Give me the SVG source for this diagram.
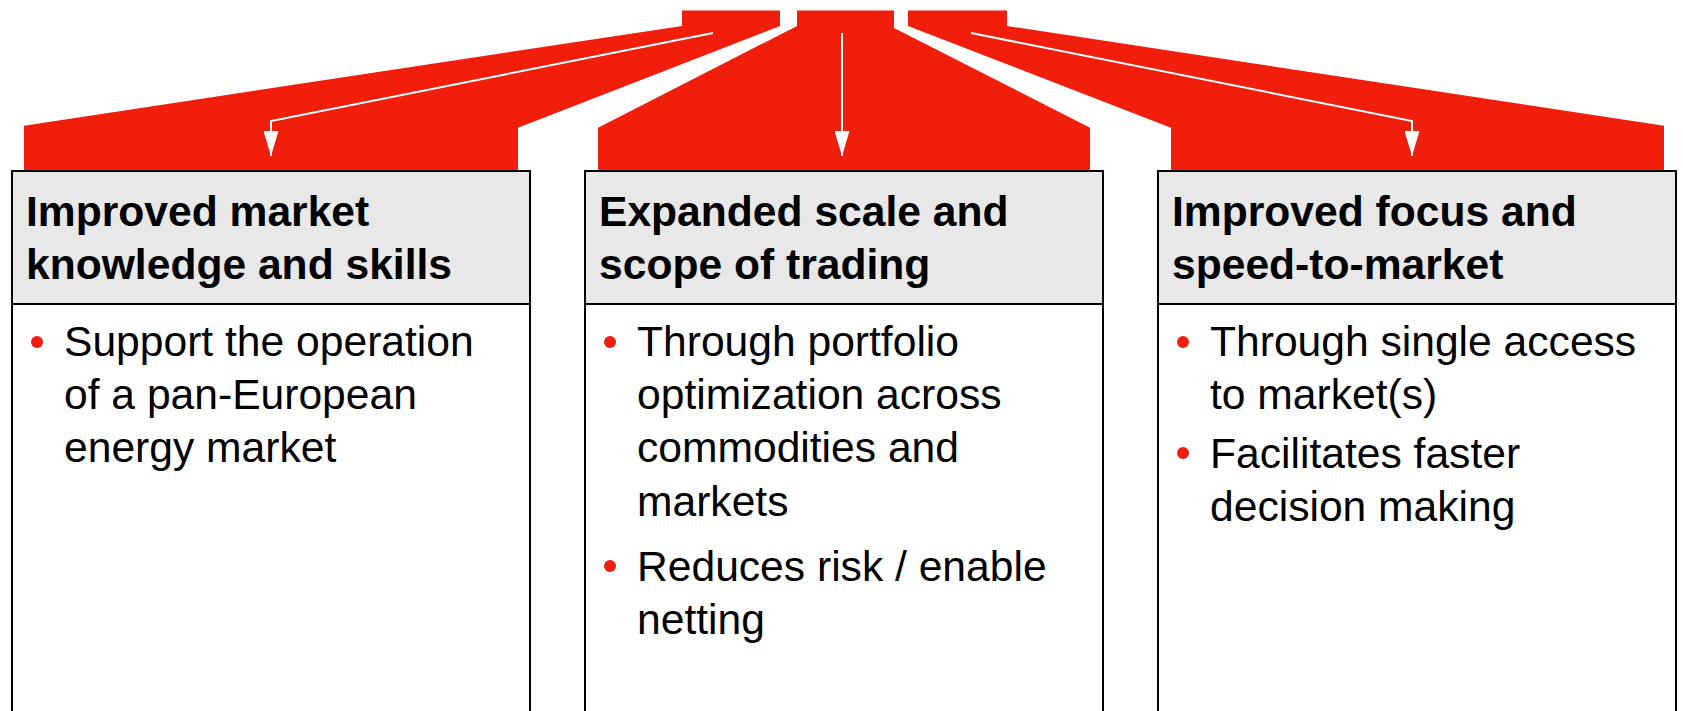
<svg xmlns="http://www.w3.org/2000/svg" width="1683" height="711" viewBox="0 0 1683 711">
  <style>
    .funnel { fill: #f01e0b; stroke: none; }
    .box { fill: #ffffff; stroke: #000000; stroke-width: 2; }
    .head { fill: #e8e8e8; stroke: #000000; stroke-width: 2; }
    .ht { font-family: "Liberation Sans", Arial, sans-serif; font-weight: bold; font-size: 42.6px; fill: #000000; }
    .bt { font-family: "Liberation Sans", Arial, sans-serif; font-size: 42.6px; fill: #000000; }
    .bullet { fill: #f01e0b; }
    .conn { fill: none; stroke: #ffffff; stroke-width: 2; }
  </style>
  <defs>
    <marker id="arrow" viewBox="0 0 25 15" refX="25" refY="7.5" markerWidth="25" markerHeight="15" markerUnits="userSpaceOnUse" orient="auto">
      <path d="M0,0 L25,7.5 L0,15 z" fill="#ffffff"/>
    </marker>
  </defs>
  <rect x="0" y="0" width="1683" height="711" fill="#ffffff"/>

  <g id="funnels">
    <polygon class="funnel" points="682,10.5 780,10.5 780,26 518,127.7 518,171 24,171 24,125.7 682,26"/>
    <polygon class="funnel" points="797,10.5 894,10.5 894,28 1090,127.7 1090,171 598,171 598,127.7 797,26"/>
    <polygon class="funnel" points="908,10.5 1007,10.5 1007,26 1664,125.7 1664,171 1171,171 1171,127.7 908,26"/>
  </g>

  <g id="connectors">
    <path class="conn" d="M713,33 L271,121 L271,156" marker-end="url(#arrow)"/>
    <path class="conn" d="M842,33 L842,156" marker-end="url(#arrow)"/>
    <path class="conn" d="M971,33 L1412,121 L1412,156" marker-end="url(#arrow)"/>
  </g>

  <g id="node-knowledge">
    <rect class="box" x="12" y="171" width="518" height="560"/>
    <rect class="head" x="12" y="171" width="518" height="133"/>
    <text class="ht" x="26" y="226">Improved market</text>
    <text class="ht" x="26" y="279">knowledge and skills</text>
    <circle class="bullet" cx="37" cy="342" r="6"/>
    <text class="bt" x="64" y="356">Support the operation</text>
    <text class="bt" x="64" y="409">of a pan-European</text>
    <text class="bt" x="64" y="462">energy market</text>
  </g>

  <g id="node-scale">
    <rect class="box" x="585" y="171" width="518" height="560"/>
    <rect class="head" x="585" y="171" width="518" height="133"/>
    <text class="ht" x="599" y="226">Expanded scale and</text>
    <text class="ht" x="599" y="279">scope of trading</text>
    <circle class="bullet" cx="610" cy="342" r="6"/>
    <text class="bt" x="637" y="356">Through portfolio</text>
    <text class="bt" x="637" y="409">optimization across</text>
    <text class="bt" x="637" y="462">commodities and</text>
    <text class="bt" x="637" y="516">markets</text>
    <circle class="bullet" cx="610" cy="566" r="6"/>
    <text class="bt" x="637" y="581">Reduces risk / enable</text>
    <text class="bt" x="637" y="634">netting</text>
  </g>

  <g id="node-focus">
    <rect class="box" x="1158" y="171" width="518" height="560"/>
    <rect class="head" x="1158" y="171" width="518" height="133"/>
    <text class="ht" x="1172" y="226">Improved focus and</text>
    <text class="ht" x="1172" y="279">speed-to-market</text>
    <circle class="bullet" cx="1183" cy="342" r="6"/>
    <text class="bt" x="1210" y="356">Through single access</text>
    <text class="bt" x="1210" y="409">to market(s)</text>
    <circle class="bullet" cx="1183" cy="453" r="6"/>
    <text class="bt" x="1210" y="468">Facilitates faster</text>
    <text class="bt" x="1210" y="521">decision making</text>
  </g>
</svg>
